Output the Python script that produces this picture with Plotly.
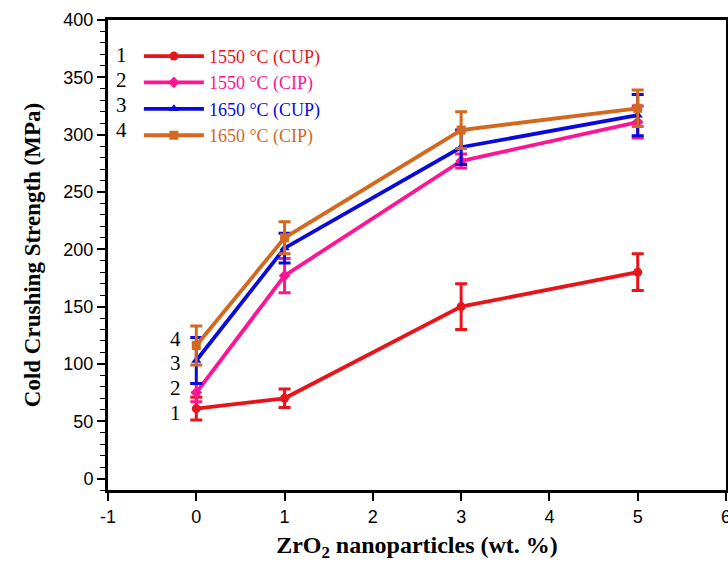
import plotly.graph_objects as go

zro2 = [0, 1, 3, 5]
labels = ["1550 °C (CUP)", "1550 °C (CIP)", "1650 °C (CUP)", "1650 °C (CIP)"]
ccs_1550_cup = [61, 70, 150, 180]
err_1550_cup = [10, 8, 20, 16]
ccs_1550_cip = [75, 177, 277, 311]
err_1550_cip = [8, 15, 6, 14]
ccs_1650_cup = [103, 201, 289, 317]
err_1650_cup = [20, 13, 15, 18]
ccs_1650_cip = [116, 210, 304, 323]
err_1650_cip = [17, 14, 16, 16]

colors = ["#e8141c", "#ff1493", "#0a0adc", "#d2691e"]
symbols = ["circle", "diamond", "triangle-up", "square"]
series = [ccs_1550_cup, ccs_1550_cip, ccs_1650_cup, ccs_1650_cip]
errors = [err_1550_cup, err_1550_cip, err_1650_cup, err_1650_cip]

serif = "Liberation Serif, Times New Roman, serif"
sans = "Liberation Sans, Arial, sans-serif"

fig = go.Figure()
for lab, ys, es, c, s in zip(labels, series, errors, colors, symbols):
    fig.add_trace(go.Scatter(
        x=zro2, y=ys, mode="lines+markers",
        name=f"<span style='color:{c}'>{lab}</span>",
        line=dict(color=c, width=3.8),
        marker=dict(symbol=s, size=9, color=c),
        error_y=dict(type="data", array=es, visible=True, color=c, thickness=3, width=6),
    ))

annotations = []
# legend numbers
for i, yp in enumerate([0.9255, 0.872, 0.819, 0.766]):
    annotations.append(dict(x=0.022, y=yp, xref="paper", yref="paper", text=str(i + 1),
                            showarrow=False, font=dict(family=serif, size=21, color="black"),
                            xanchor="center", yanchor="middle"))
# series numbers near x=0
for i, yv in enumerate([57, 79, 101, 122]):
    annotations.append(dict(x=-0.24, y=yv, xref="x", yref="y", text=str(i + 1),
                            showarrow=False, font=dict(family=serif, size=21, color="black"),
                            xanchor="center", yanchor="middle"))

fig.update_layout(
    width=728, height=562,
    margin=dict(l=108, r=2, t=20, b=72),
    paper_bgcolor="white", plot_bgcolor="white",
    showlegend=True,
    legend=dict(x=0.05, y=0.962, xanchor="left", yanchor="top",
                font=dict(family=serif, size=18), bgcolor="rgba(0,0,0,0)",
                tracegroupgap=0, itemwidth=60),
    annotations=annotations,
    xaxis=dict(range=[-1, 6], tickvals=[-1, 0, 1, 2, 3, 4, 5, 6],
               ticktext=["-1", "0", "1", "2", "3", "4", "5", "6"],
               ticks="outside", ticklen=8, tickwidth=1.5, tickcolor="black",
               showline=True, linecolor="black", linewidth=3, mirror=True,
               showgrid=False, zeroline=False, automargin=False,
               ticklabeloverflow="allow",
               tickfont=dict(family=sans, size=18, color="black"),
               title=dict(text="<b>ZrO<sub>2</sub> nanoparticles (wt. %)</b>",
                          font=dict(family=serif, size=24, color="black"), standoff=12)),
    yaxis=dict(range=[-10, 400], tickvals=[0, 50, 100, 150, 200, 250, 300, 350, 400],
               ticks="outside", ticklen=8, tickwidth=1.5, tickcolor="black",
               minor=dict(dtick=10, ticks="outside", ticklen=5, tickwidth=1, tickcolor="black"),
               showline=True, linecolor="black", linewidth=3, mirror=True,
               showgrid=False, zeroline=False, automargin=False,
               tickfont=dict(family=sans, size=18, color="black"),
               title=dict(text="<b>Cold Crushing Strength (MPa)</b>",
                          font=dict(family=serif, size=23, color="black"), standoff=17)),
)

fig.write_html("out.html", config={"displayModeBar": False},
               post_script="document.body.style.margin='0px';document.body.style.overflow='hidden';")
